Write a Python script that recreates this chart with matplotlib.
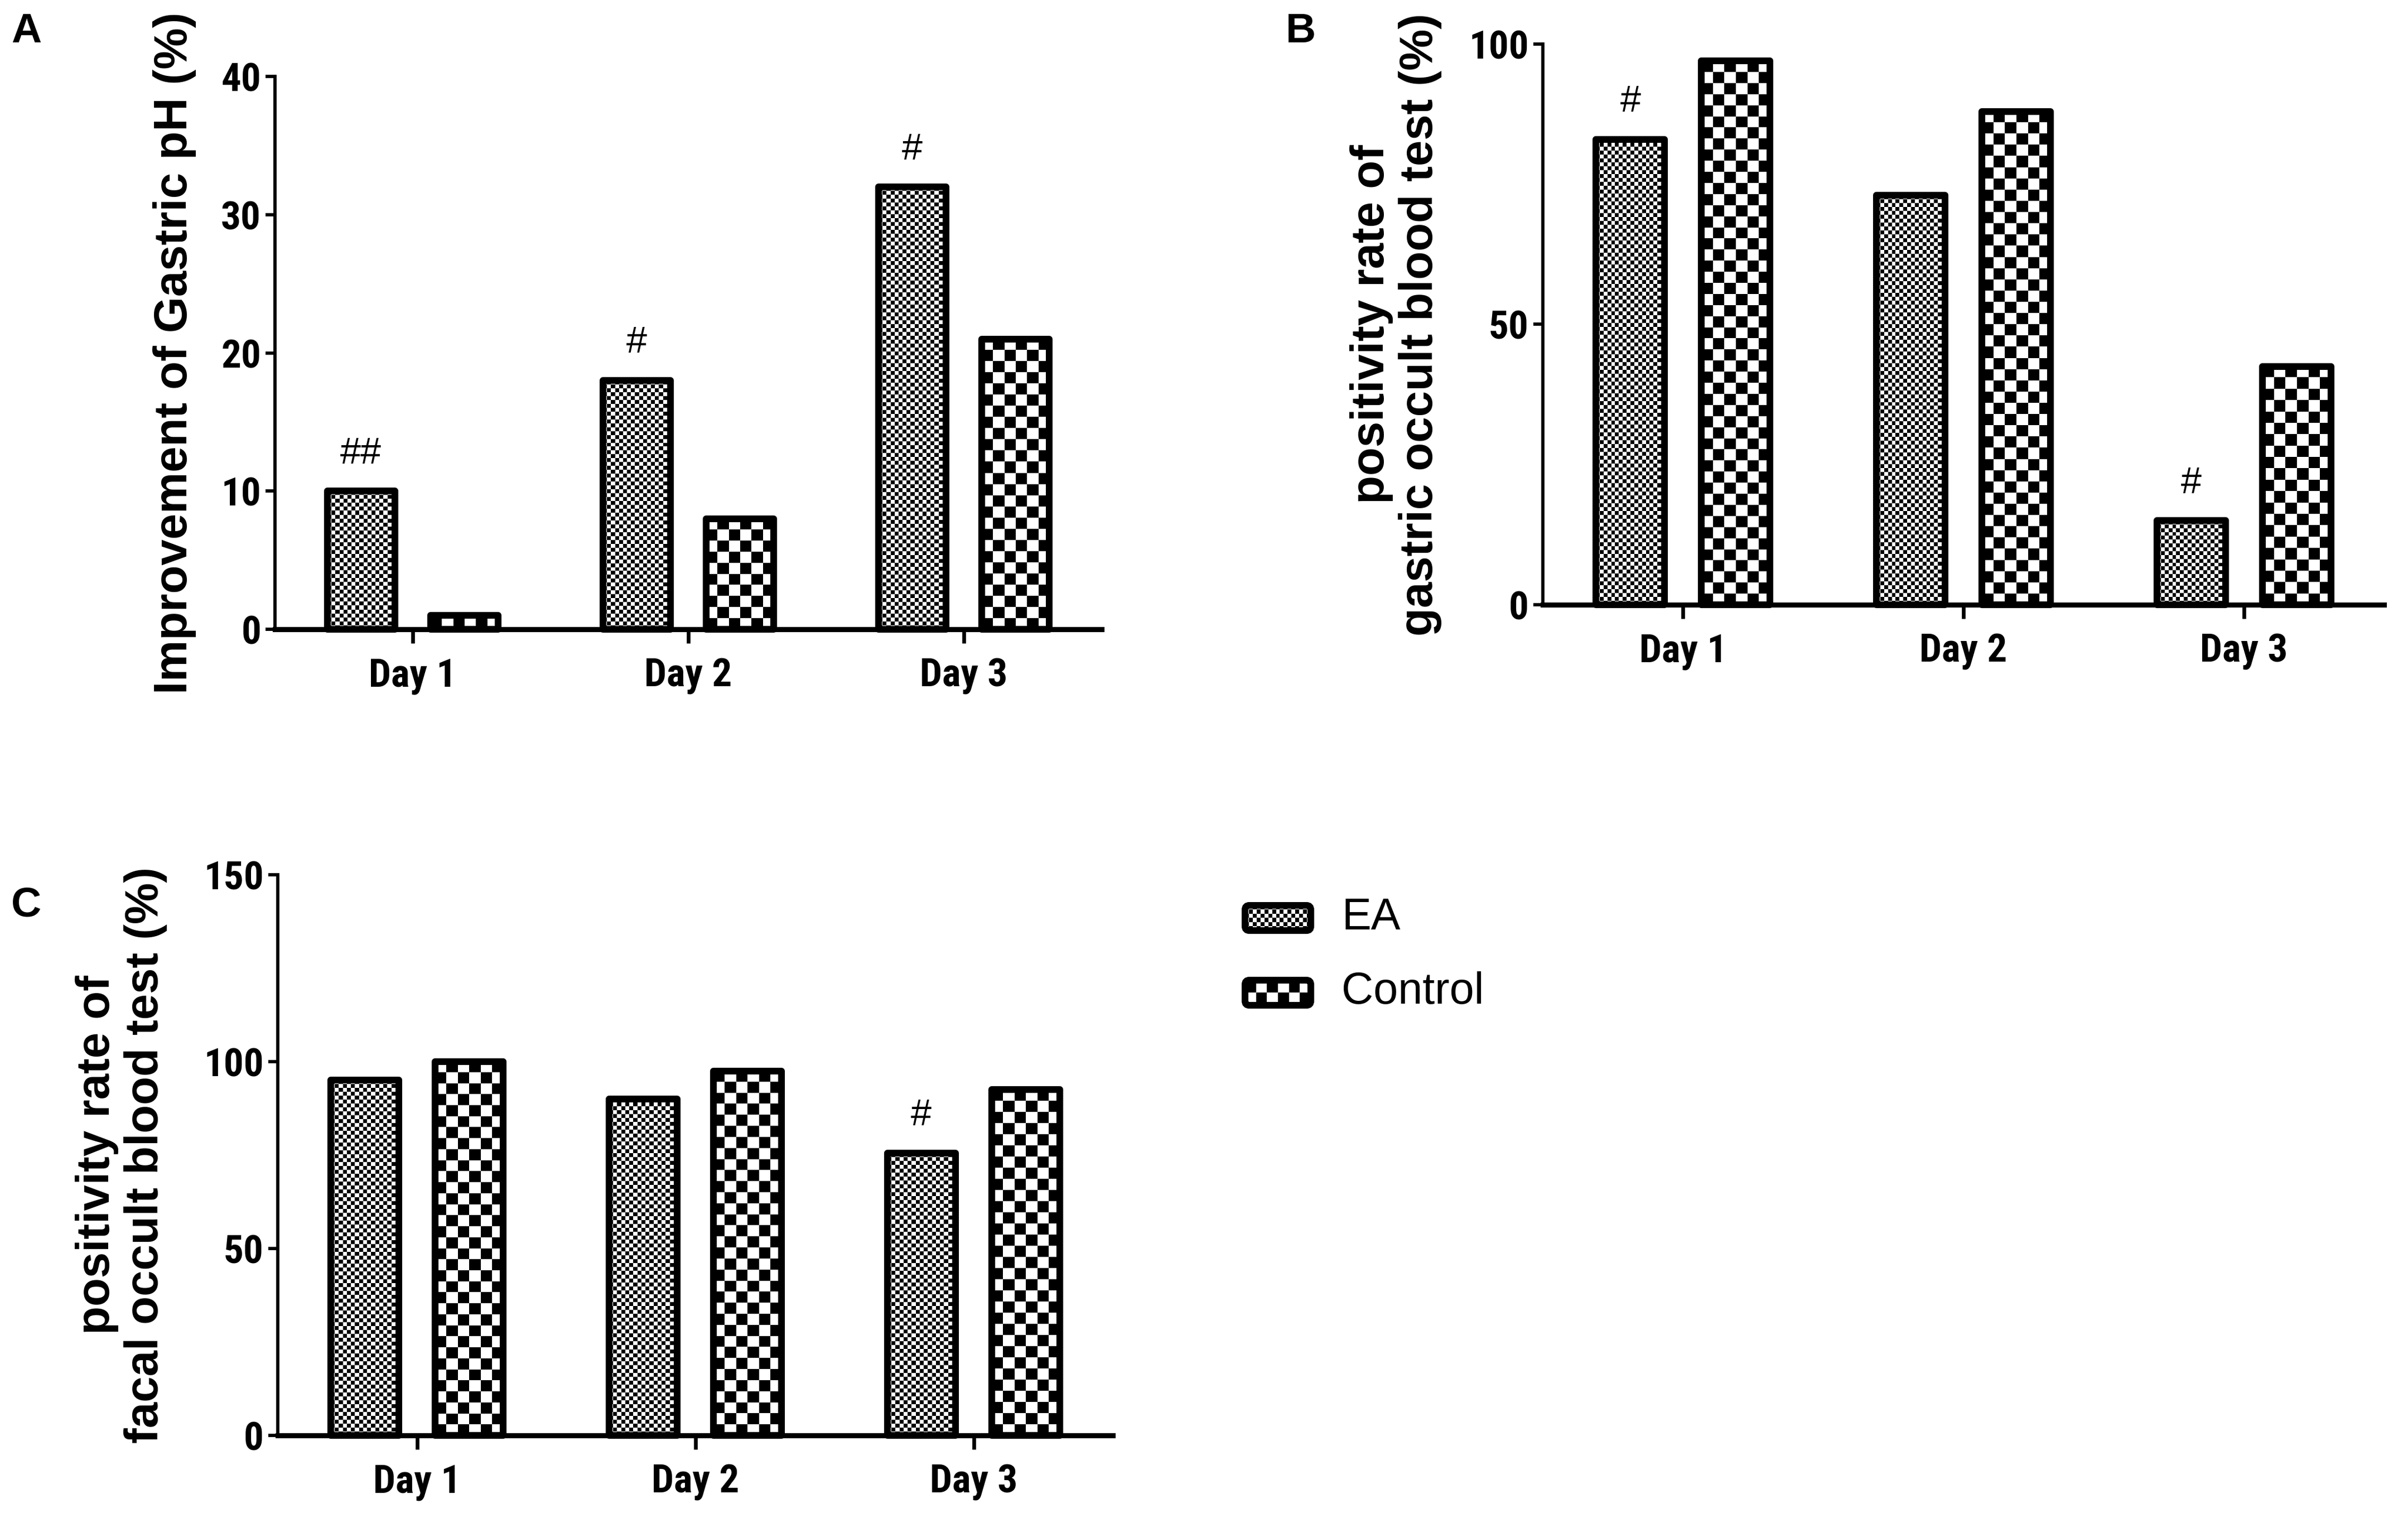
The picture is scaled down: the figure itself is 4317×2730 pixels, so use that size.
import numpy as np
import matplotlib
matplotlib.use("Agg")
import matplotlib.pyplot as plt
from matplotlib import font_manager
from matplotlib.patches import FancyBboxPatch

# data
days = ["Day 1", "Day 2", "Day 3"]
groups = ["EA", "Control"]

ph_ea = [10, 18, 32]
ph_ctrl = [1, 8, 21]
ph_marks = ["##", "#", "#"]

gastric_ea = [83, 73, 15]
gastric_ctrl = [97, 88, 42.5]
gastric_marks = ["#", "", "#"]

fecal_ea = [95, 90, 75.5]
fecal_ctrl = [100, 97.5, 92.5]
fecal_marks = ["", "", "#"]

W, H, DPI = 4317, 2730, 300
plt.rcParams["font.family"] = ["Liberation Sans", "DejaVu Sans"]

# a condensed bold face for the tick labels if one is installed
names = {f.name for f in font_manager.fontManager.ttflist}
narrow, stretch = "Liberation Sans", "normal"
for cand in ["Liberation Sans Narrow", "Roboto Condensed", "Open Sans Condensed"]:
    if cand in names:
        narrow = cand
        break
else:
    if any(f.name == "DejaVu Sans" and f.stretch == "condensed" for f in font_manager.fontManager.ttflist):
        narrow, stretch = "DejaVu Sans", "condensed"

fig = plt.figure(figsize=(W / DPI, H / DPI), dpi=DPI)

CELL = {"EA": 7.0, "Control": 20.0}   # checker cell size in pixels


def checker(ax, patch, x0, y0, w, h, pxx, pxy, cell):
    nx = max(1, int(round(w * pxx / cell)))
    ny = max(1, int(round(h * pxy / cell)))
    arr = np.add.outer(np.arange(ny), np.arange(nx)) % 2
    im = ax.imshow(arr, cmap="gray", vmin=0, vmax=1, interpolation="nearest",
                   extent=(x0, x0 + w, y0, y0 + h), origin="lower",
                   aspect="auto", zorder=2)
    im.set_clip_path(patch)


def panel(rect_px, ea, ctrl, marks, ymax, yticks, ylabel, label_x, letter, letter_px):
    l, r, t, b = rect_px
    ax = fig.add_axes([l / W, 1 - b / H, (r - l) / W, (b - t) / H])
    x = np.arange(len(days))
    xlim = (-0.5, 2.5)
    ax.set_xlim(*xlim)
    ax.set_ylim(0, ymax)
    pxx = (r - l) / (xlim[1] - xlim[0])
    pxy = (b - t) / ymax
    off, bw = 0.188, 0.245
    for vals, g, sgn in [(ea, "EA", -1), (ctrl, "Control", 1)]:
        bars = ax.bar(x + sgn * off, vals, bw, facecolor="none", edgecolor="black",
                      linewidth=2.9, joinstyle="round", zorder=3, clip_on=False)
        for p in bars:
            checker(ax, p, p.get_x(), 0, p.get_width(), p.get_height(), pxx, pxy, CELL[g])
    ax.set_xlim(*xlim)
    ax.set_ylim(0, ymax)
    for xi, v, m in zip(x, ea, marks):
        if m:
            ax.annotate(m, (xi - off, v), xytext=(0, 16), textcoords="offset points",
                        ha="center", va="center", fontsize=16)
    for s in ["top", "right"]:
        ax.spines[s].set_visible(False)
    ax.spines["left"].set_linewidth(1.4)
    ax.spines["bottom"].set_linewidth(2.2)
    ax.set_xticks(x)
    ax.set_xticklabels(days)
    ax.set_yticks(yticks)
    ax.tick_params(axis="y", direction="out", length=4, width=1.4, pad=2, labelsize=17)
    ax.tick_params(axis="x", direction="out", length=6, width=1.6, pad=6, labelsize=17)
    for lab in ax.get_xticklabels() + ax.get_yticklabels():
        lab.set_family(narrow)
        lab.set_stretch(stretch)
        lab.set_fontweight("bold")
    ax.set_ylabel(ylabel, fontsize=20, fontweight="bold", linespacing=1.15)
    ax.yaxis.set_label_coords(label_x, 0.5)
    fig.text(letter_px[0] / W, 1 - letter_px[1] / H, letter, fontsize=18,
             fontweight="bold", ha="left", va="top")
    return ax


panel((493, 1975, 137, 1128), ph_ea, ph_ctrl, ph_marks, 40, [0, 10, 20, 30, 40],
      "Improvement of Gastric pH (%)", -0.095, "A", (20, 22))
panel((2766, 4274, 79, 1084), gastric_ea, gastric_ctrl, gastric_marks, 100, [0, 50, 100],
      "positivity rate of\ngastric occult blood test (%)", -0.12, "B", (2305, 22))
panel((498, 1995, 1568, 2573), fecal_ea, fecal_ctrl, fecal_marks, 150, [0, 50, 100, 150],
      "positivity rate of\nfacal occult blood test (%)", -0.132, "C", (20, 1588))

# legend drawn in its own pixel-unit axes
lx0, ly0, lw, lh = 2226, 1617, 700, 192
lax = fig.add_axes([lx0 / W, 1 - (ly0 + lh) / H, lw / W, lh / H])
lax.set_xlim(0, lw)
lax.set_ylim(lh, 0)
lax.axis("off")
for i, g in enumerate(groups):
    y0 = i * 134
    sw = FancyBboxPatch((6, y0 + 6), 118, 45, boxstyle="round,pad=0,rounding_size=8",
                        facecolor="none", edgecolor="black", linewidth=2.9, zorder=3)
    lax.add_patch(sw)
    nx = int(round(118 / CELL[g]))
    ny = int(round(45 / CELL[g]))
    arr = np.add.outer(np.arange(ny), np.arange(nx)) % 2
    im = lax.imshow(arr, cmap="gray", vmin=0, vmax=1, interpolation="nearest",
                    extent=(6, 124, y0 + 51, y0 + 6), aspect="auto", zorder=2)
    im.set_clip_path(sw)
    lax.text(179, y0 + 28, g, fontsize=19, va="center", ha="left")
lax.set_xlim(0, lw)
lax.set_ylim(lh, 0)

fig.savefig("out.png", dpi=DPI)
